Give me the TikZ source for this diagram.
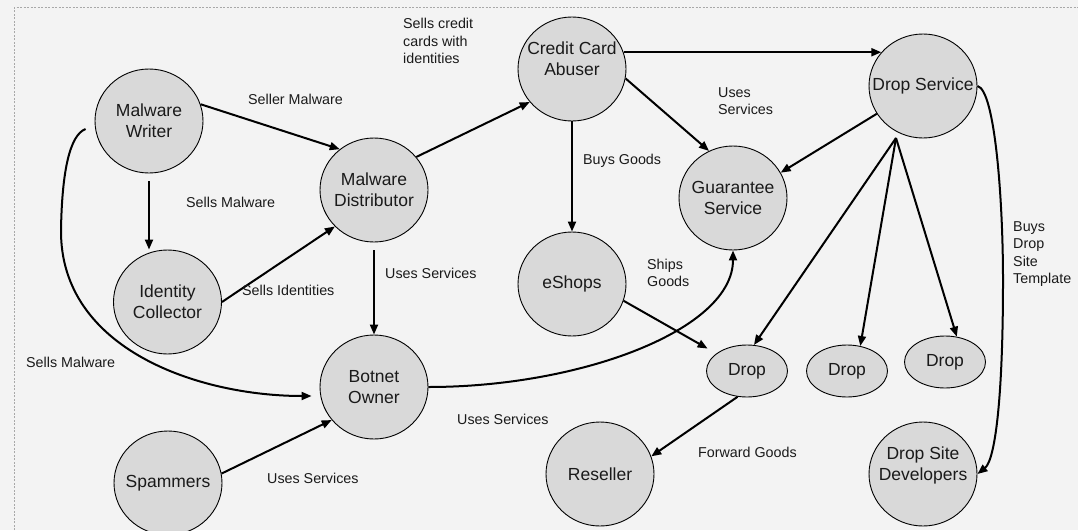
\documentclass[tikz,border=0pt]{standalone}
\usepackage{fontspec}
\setmainfont{Liberation Sans}
\usetikzlibrary{arrows.meta,shapes.geometric}
\definecolor{bg}{HTML}{F3F3F3}
\definecolor{nodefill}{HTML}{D9D9D9}
\definecolor{framec}{HTML}{A8A8A8}
\definecolor{txt}{HTML}{1A1A1A}
\newcommand{\cl}[1]{\makebox[40pt]{#1}}
\begin{document}
\begin{tikzpicture}[x=1pt,y=-1pt,
  ent/.style={ellipse,draw=black,line width=0.9pt,fill=nodefill,minimum width=108pt,minimum height=104pt,inner sep=0pt,align=center,text=txt,font=\fontsize{17.5}{20.7}\selectfont},
  dropnode/.style={ent,minimum width=81pt,minimum height=52pt},
  lbl/.style={anchor=west,align=left,inner sep=0pt,text=txt,font=\fontsize{14.3}{17.5}\selectfont},
  arr/.style={line width=2pt,-{Triangle[length=10pt,width=8pt]}}]
\fill[bg] (0,0) rectangle (1078,530);
\useasboundingbox (0,0) rectangle (1078,530);
\draw[framec,line width=1pt,dash pattern=on 2pt off 1.5pt] (14,530) -- (14,7.5) -- (1078,7.5);

% nodes
\node[ent] (mw) at (149,121) {\cl{Malware}\\\cl{Writer}};
\node[ent] (md) at (374,190) {\cl{Malware}\\\cl{Distributor}};
\node[ent] (ic) at (167.5,302) {\cl{Identity}\\\cl{Collector}};
\node[ent] (bo) at (374,387) {\cl{Botnet}\\\cl{Owner}};
\node[ent] (sp) at (168,483) {\cl{Spammers}};
\node[ent] (cca) at (572,69) {\cl{Credit Card}\\\cl{Abuser}\\\mbox{}};
\node[ent] (gs) at (733,198) {\cl{Guarantee}\\\cl{Service}};
\node[ent] (ds) at (923,86) {\cl{Drop Service}};
\node[ent] (es) at (572,284) {\cl{eShops}};
\node[dropnode] (d1) at (747,371) {\cl{Drop}};
\node[dropnode] (d2) at (847,371) {\cl{Drop}};
\node[dropnode] (d3) at (945,362) {\cl{Drop}};
\node[ent] (rs) at (600,474) {\cl{Reseller}};
\node[ent] (dsd) at (923,474) {\cl{Drop Site}\\\cl{Developers}\\\mbox{}};
\coordinate (fan) at (896,138);

% connectors
\draw[arr] (mw.18) -- (md.130);
\draw[arr] ([yshift=-8pt]mw.south) -- (mw.south |- ic.north);
\draw[arr] (ic.east) -- (md.223);
\draw[arr] ([yshift=-8pt]md.south) -- (bo.north);
\draw[arr] ([xshift=-9pt,yshift=-8pt]mw.west) .. controls (70,135) and (62,170) .. (61,230)
           .. controls (60,350) and (200,396) .. ([xshift=-8pt,yshift=-9pt]bo.west);
\draw[arr] (sp.10) -- (bo.218);
\draw[arr] (bo.east) .. controls (580,387) and (733,330) .. (gs.south);
\draw[arr] (md.38) -- (cca.218);
\draw[arr] (cca.south) -- (es.north);
\draw[arr] (cca.350) -- (gs.117);
\draw[arr] (cca.18) -- (cca.18 -| ds.141);
\draw[arr] (ds.211) -- (gs.28);
\draw[arr] (fan) -- (d1.75);
\draw[arr] (fan) -- (d2.62);
\draw[arr] (fan) -- (d3.65);
\draw[arr] (ds.east) .. controls (995,90) and (1003,200) .. (1003,280)
           .. controls (1003,400) and (995,460) .. (dsd.east);
\draw[arr,shorten >=10pt] (es.342) -- (d1);
\draw[arr] (d1.250) -- (rs.19);

% labels
\node[lbl] (l1) at (248,99) {Seller Malware};
\node[lbl] (l2) at (186,202) {Sells Malware};
\node[lbl] (l3) at (403,41) {Sells credit\\cards with\\identities};
\node[lbl] (l4) at (718,101) {Uses\\Services};
\node[lbl] (l5) at (583,161) {Buys Goods};
\node[lbl] (l6) at (242,290) {Sells Identities};
\node[lbl] (l7) at (385,273) {Uses Services};
\node[lbl] (l8) at (26,362) {Sells Malware};
\node[lbl] (l9) at (267,478) {Uses Services};
\node[lbl] (l10) at (457,419) {Uses Services};
\node[lbl] (l11) at (647,273) {Ships\\Goods};
\node[lbl] (l12) at (698,452) {Forward Goods};
\node[lbl] (l13) at (1013,254) {Buys\\Drop\\Site\\Template};
\end{tikzpicture}
\end{document}
